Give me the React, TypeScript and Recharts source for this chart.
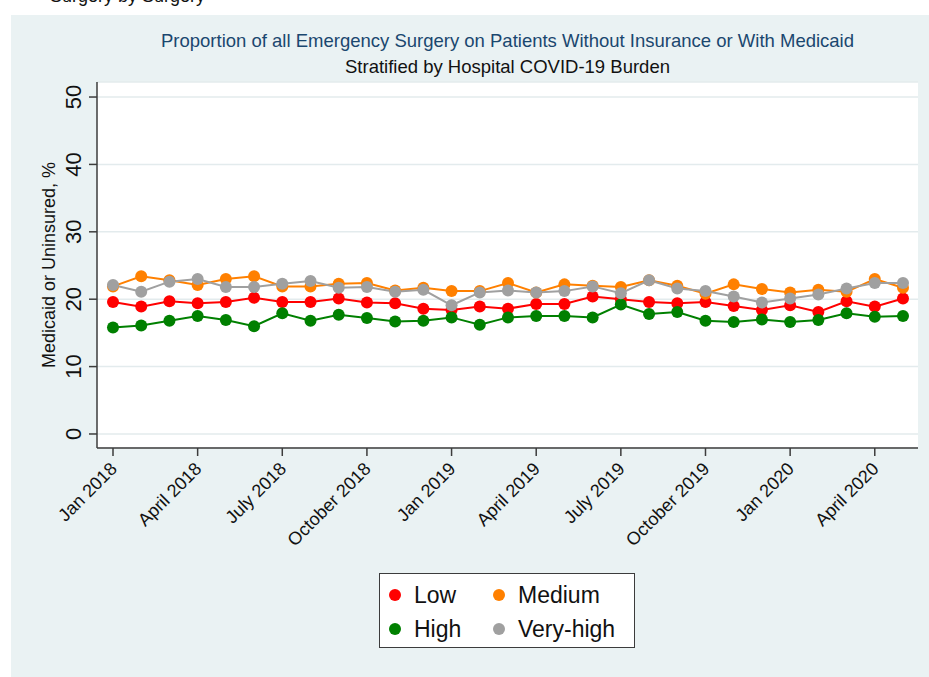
import React from "react";
import { CartesianGrid, Legend, Line, LineChart, XAxis, YAxis } from "recharts";

// monthly points, Jan 2018 .. May 2020
const months = [
  "2018-01", "2018-02", "2018-03", "2018-04", "2018-05", "2018-06", "2018-07", "2018-08", "2018-09",
  "2018-10", "2018-11", "2018-12", "2019-01", "2019-02", "2019-03", "2019-04", "2019-05", "2019-06",
  "2019-07", "2019-08", "2019-09", "2019-10", "2019-11", "2019-12", "2020-01", "2020-02", "2020-03",
  "2020-04", "2020-05",
];

const low = [
  19.6, 18.9, 19.7, 19.4, 19.6, 20.2, 19.6, 19.6, 20.1, 19.5, 19.4, 18.6, 18.4, 18.9, 18.6,
  19.3, 19.3, 20.4, 20.0, 19.6, 19.4, 19.6, 19.0, 18.4, 19.1, 18.1, 19.7, 18.9, 20.1,
];
const medium = [
  21.9, 23.4, 22.8, 22.1, 23.0, 23.4, 21.9, 21.9, 22.3, 22.4, 21.3, 21.7, 21.2, 21.2, 22.4,
  21.0, 22.2, 22.0, 21.8, 22.8, 22.0, 20.8, 22.2, 21.5, 21.0, 21.4, 21.1, 23.0, 21.7,
];
const high = [
  15.8, 16.1, 16.8, 17.5, 16.9, 16.0, 17.9, 16.8, 17.7, 17.2, 16.7, 16.8, 17.3, 16.2, 17.3,
  17.5, 17.5, 17.3, 19.2, 17.8, 18.1, 16.8, 16.6, 17.0, 16.6, 16.9, 17.9, 17.4, 17.5,
];
const veryHigh = [
  22.1, 21.1, 22.6, 23.0, 21.8, 21.8, 22.3, 22.7, 21.7, 21.8, 21.1, 21.4, 19.1, 21.0, 21.3,
  21.0, 21.2, 21.9, 20.9, 22.8, 21.6, 21.2, 20.4, 19.5, 20.1, 20.7, 21.6, 22.4, 22.4,
];

const xTicks = [0, 3, 6, 9, 12, 15, 18, 21, 24, 27];
const xTickLabels = [
  "Jan 2018", "April 2018", "July 2018", "October 2018", "Jan 2019",
  "April 2019", "July 2019", "October 2019", "Jan 2020", "April 2020",
];
const yTicks = [0, 10, 20, 30, 40, 50];

const FONT = "'Liberation Sans', Arial, Helvetica, sans-serif";
const PANEL = "#eaf2f3";
const AXIS = "#3c3c3c";
const GRID = "#e3ebed";
const NAVY = "#1a476f";

const series = [
  { key: "Low", values: low, color: "#ff0000" },
  { key: "Medium", values: medium, color: "#ff8000" },
  { key: "High", values: high, color: "#008000" },
  { key: "Very-high", values: veryHigh, color: "#a0a0a0" },
];
const seriesOrder = series.map((s) => s.key);

const rows = months.map((m, i) => {
  const r: Record<string, number | string> = { idx: i, month: m };
  series.forEach((s) => (r[s.key] = s.values[i]));
  return r;
});

function XTick({ x, y, payload }: any) {
  const i = xTicks.indexOf(payload.value);
  return (
    <text
      x={x + 5}
      y={y + 12}
      transform={`rotate(-45 ${x + 5} ${y + 12})`}
      textAnchor="end"
      fontSize={18}
      fontFamily={FONT}
      fill="#111"
    >
      {xTickLabels[i]}
    </text>
  );
}

function YTick({ x, y, payload }: any) {
  const bx = x - 6;
  return (
    <text
      x={bx}
      y={y}
      transform={`rotate(-90 ${bx} ${y})`}
      textAnchor="middle"
      fontSize={22}
      fontFamily={FONT}
      fill="#111"
    >
      {payload.value}
    </text>
  );
}

function YTitle({ viewBox }: any) {
  const cx = 55;
  const cy = viewBox.y + viewBox.height / 2;
  return (
    <text
      x={cx}
      y={cy}
      transform={`rotate(-90 ${cx} ${cy})`}
      textAnchor="middle"
      fontSize={18}
      fontFamily={FONT}
      fill="#111"
    >
      Medicaid or Uninsured, %
    </text>
  );
}

function LegendBox({ payload }: any) {
  const items = [...(payload || [])].sort(
    (a: any, b: any) => seriesOrder.indexOf(a.value) - seriesOrder.indexOf(b.value)
  );
  return (
    <div
      style={{
        width: 256,
        height: 75,
        boxSizing: "border-box",
        border: `1px solid ${AXIS}`,
        background: "#fff",
        display: "grid",
        gridTemplateColumns: "104px 1fr",
        gridAutoRows: "34px",
        padding: "4px 0 0 9px",
        fontFamily: FONT,
        fontSize: 23,
        color: "#111",
      }}
    >
      {items.map((p: any) => (
        <div key={p.value} style={{ display: "flex", alignItems: "center", gap: 13, whiteSpace: "nowrap" }}>
          <span
            style={{ width: 12, height: 12, borderRadius: 6, background: p.color, display: "inline-block", flex: "none" }}
          />
          <span>{p.value}</span>
        </div>
      ))}
    </div>
  );
}

export default function App() {
  return (
    <div style={{ position: "absolute", left: 0, top: 0, width: 929, height: 677, background: "#fff", overflow: "hidden" }}>
      <div
        style={{
          position: "absolute",
          left: 50,
          top: -14,
          fontFamily: FONT,
          fontSize: 18,
          color: "#111",
          whiteSpace: "nowrap",
        }}
      >
        Surgery by Surgery
      </div>
      <div style={{ position: "absolute", left: 11, top: 15, width: 918, height: 662, background: PANEL }} />
      <div
        style={{
          position: "absolute",
          left: 0,
          width: 1015,
          top: 30,
          textAlign: "center",
          fontFamily: FONT,
          fontSize: 18.5,
          color: NAVY,
          whiteSpace: "nowrap",
        }}
      >
        Proportion of all Emergency Surgery on Patients Without Insurance or With Medicaid
      </div>
      <div
        style={{
          position: "absolute",
          left: 0,
          width: 1015,
          top: 56,
          textAlign: "center",
          fontFamily: FONT,
          fontSize: 18.5,
          color: "#111",
          whiteSpace: "nowrap",
        }}
      >
        Stratified by Hospital COVID-19 Burden
      </div>
      <div style={{ position: "absolute", left: 0, top: 0 }}>
        <LineChart width={929} height={677} data={rows} margin={{ top: 82, right: 11, bottom: 129, left: 0 }}>
          <CartesianGrid fill="#fff" stroke={GRID} strokeWidth={1.5} vertical={false} />
          <XAxis
            dataKey="idx"
            type="number"
            domain={[-0.567, 28.532]}
            ticks={xTicks}
            allowDataOverflow
            height={100}
            tickSize={8}
            tick={<XTick />}
            axisLine={{ stroke: AXIS, strokeWidth: 1.5 }}
            tickLine={{ stroke: AXIS, strokeWidth: 1.5 }}
          />
          <YAxis
            type="number"
            domain={[-2.08, 52.23]}
            ticks={yTicks}
            allowDataOverflow
            width={97}
            tickSize={8}
            tick={<YTick />}
            axisLine={{ stroke: AXIS, strokeWidth: 1.5 }}
            tickLine={{ stroke: AXIS, strokeWidth: 1.5 }}
            label={<YTitle />}
          />
          <Legend
            layout="horizontal"
            verticalAlign="middle"
            align="center"
            wrapperStyle={{ position: "absolute", left: 379, top: 573, width: 256, height: 75 }}
            content={<LegendBox />}
          />
          {series.map((s) => (
            <Line
              key={s.key}
              dataKey={s.key}
              name={s.key}
              stroke={s.color}
              strokeWidth={2}
              dot={{ r: 6, fill: s.color, stroke: "none" }}
              activeDot={false}
              isAnimationActive={false}
            />
          ))}
        </LineChart>
      </div>
    </div>
  );
}
